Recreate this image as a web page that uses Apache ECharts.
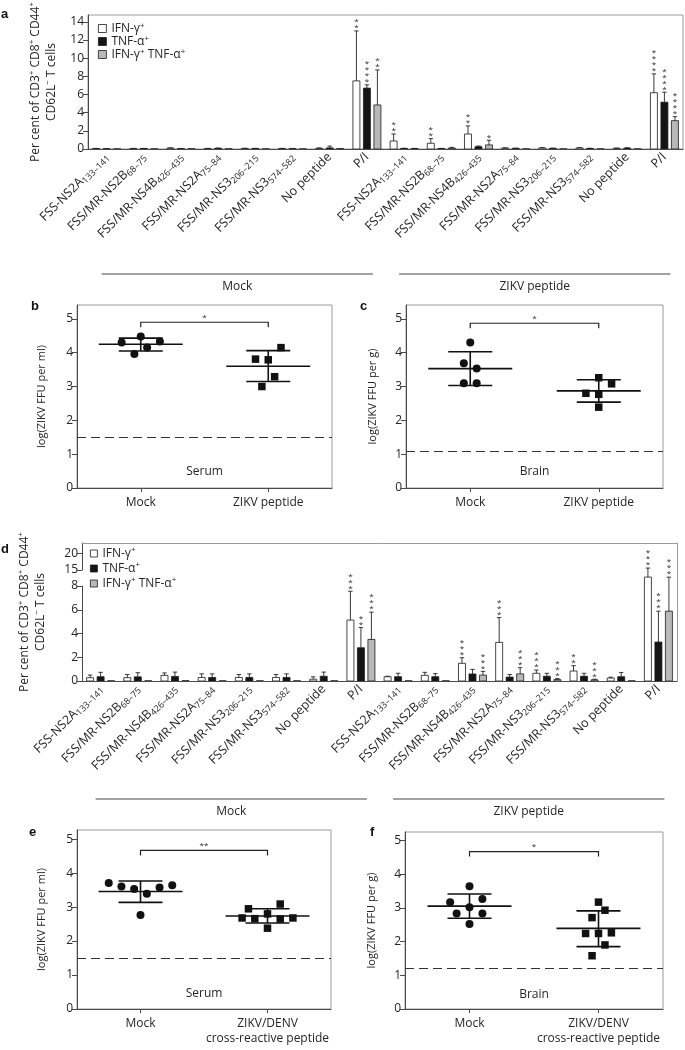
<!DOCTYPE html>
<html><head><meta charset="utf-8">
<script src="https://cdn.jsdelivr.net/npm/echarts@6/dist/echarts.min.js"></script>
<style>html,body{margin:0;padding:0;background:#fff}#c{width:685px;height:1050px}</style>
</head><body><div id="c"></div>
<script>
// ---------------- DATA ----------------
const peptideNames = ['FSS-NS2A','FSS/MR-NS2B','FSS/MR-NS4B','FSS/MR-NS2A','FSS/MR-NS3','FSS/MR-NS3','No peptide','P/I'];
const peptideSubs  = ['133–141','68–75','426–435','75–84','206–215','574–582','',''];
const groupNames   = ['Mock','ZIKV peptide'];
const cytokines    = ['IFN-γ+','TNF-α+','IFN-γ+ TNF-α+'];

// panel a (mean, SD, number of stars) - 16 categories: 8 Mock then 8 ZIKV peptide
const aIFN      = [0.05,0.05,0.10,0.05,0.06,0.05,0.08,7.50, 0.88,0.63,1.65,0.10,0.12,0.12,0.08,6.20];
const aIFNsd    = [0.02,0.02,0.03,0.02,0.02,0.02,0.04,5.50, 0.77,0.51,0.89,0.03,0.03,0.03,0.02,2.07];
const aIFNstars = [0,0,0,0,0,0,0,2, 2,2,2,0,0,0,0,4];
const aTNF      = [0.03,0.05,0.04,0.08,0.05,0.04,0.12,6.70, 0.06,0.05,0.25,0.07,0.07,0.06,0.10,5.15];
const aTNFsd    = [0.01,0.02,0.02,0.02,0.02,0.02,0.20,0.36, 0.02,0.02,0.08,0.02,0.02,0.02,0.03,1.10];
const aTNFstars = [0,0,0,0,0,0,0,4, 0,0,0,0,0,0,0,4];
const aDP       = [0.02,0.02,0.03,0.03,0.02,0.02,0.05,4.85, 0.05,0.10,0.45,0.02,0.02,0.02,0.02,3.12];
const aDPsd     = [0,0,0,0,0,0,0,3.85, 0.02,0.08,0.51,0,0,0,0,0.44];
const aDPstars  = [0,0,0,0,0,0,0,2, 0,0,1,0,0,0,0,4];

// panel d
const dIFN      = [0.28,0.28,0.47,0.30,0.30,0.30,0.15,5.13, 0.36,0.48,1.49,3.25,0.65,0.84,0.25,11.9];
const dIFNsd    = [0.22,0.27,0.21,0.30,0.25,0.25,0.20,2.43, 0.04,0.25,0.47,2.10,0.27,0.45,0.07,3.70];
const dIFNstars = [0,0,0,0,0,0,0,3, 0,0,3,3,3,2,0,3];
const dTNF      = [0.36,0.35,0.38,0.30,0.30,0.30,0.40,2.80, 0.36,0.36,0.59,0.33,0.40,0.40,0.36,3.28];
const dTNFsd    = [0.37,0.35,0.37,0.30,0.30,0.30,0.35,1.70, 0.29,0.26,0.39,0.22,0.25,0.25,0.36,2.60];
const dTNFstars = [0,0,0,0,0,0,0,2, 0,0,0,0,0,0,0,3];
const dDP       = [0.02,0.02,0.03,0.02,0.02,0.02,0.02,3.50, 0.02,0.02,0.50,0.60,0.12,0.10,0.02,5.88];
const dDPsd     = [0,0,0,0,0,0,0,2.30, 0,0,0.31,0.52,0.08,0.05,0,6.00];
const dDPstars  = [0,0,0,0,0,0,0,3, 0,0,3,3,3,3,0,3];

// panels b, c, e, f: jittered x position (1 = Mock, 2 = peptide) and log titre
const bMockX = [0.85,1.00,1.15,0.95,1.05], bMockY = [4.30,4.48,4.33,3.96,4.15];
const bPepX  = [1.90,2.00,2.10,2.05,1.95], bPepY  = [3.81,3.79,4.15,3.29,3.00];
const bMean = [4.25,3.60], bLo = [4.05,3.15], bHi = [4.43,4.06];
const cMockX = [1.00,0.95,1.05,0.95,1.05], cMockY = [4.30,3.69,3.53,3.10,3.10];
const cPepX  = [2.00,2.10,1.90,2.00,2.00], cPepY  = [3.26,3.08,2.80,2.77,2.39];
const cMean = [3.53,2.87], cLo = [3.03,2.54], cHi = [4.03,3.20];
const eMockX = [0.75,0.85,0.95,1.05,1.15,1.25,1.00], eMockY = [3.71,3.61,3.53,3.39,3.58,3.64,2.77];
const ePepX  = [1.80,1.85,1.90,2.00,2.10,2.00,2.10,2.20], ePepY = [2.68,2.95,2.66,2.80,3.09,2.38,2.65,2.68];
const eMean = [3.46,2.74], eLo = [3.14,2.53], eHi = [3.77,2.95];
const fMockX = [1.00,0.85,1.10,1.00,0.90,1.10,1.00], fMockY = [3.64,3.17,3.26,3.02,2.83,2.83,2.52];
const fPepX  = [2.00,2.05,1.95,1.90,2.00,2.10,2.05,1.95], fPepY = [3.17,2.93,2.71,2.24,2.24,2.26,1.90,1.58];
const fMean = [3.05,2.39], fLo = [2.69,1.85], fHi = [3.41,2.91];
const detectionLimit = [1.5, 1.1, 1.5, 1.2];
const bracketLevel = [4.90, 4.87, 4.67, 4.67];
const bracketStars = [1, 1, 2, 1];
const tissueNames = ['Serum','Brain','Serum','Brain'];
const tissueLabelY = [0.50, 0.50, 0.45, 0.42];
const titreTitles = ['log(ZIKV FFU per ml)','log(ZIKV FFU per g)','log(ZIKV FFU per ml)','log(ZIKV FFU per g)'];
const xNamesBC = ['Mock','ZIKV peptide'];
const xNamesEF = ['Mock','ZIKV/DENV\ncross-reactive peptide'];
const aTicks = [0,2,4,6,8,10,12,14];
const dLowTicks = [0,2,4,6,8];
const dHighTicks = [15,20];
const titreTicks = [0,1,2,3,4,5];

// ---------------- STYLE ----------------
const FONT = "'Open Sans', 'DejaVu Sans', sans-serif";
const TXT = '#262626', AX = '#4a4a4a', BOX = '#9a9a9a';
const FILLS = ['#ffffff', '#141414', '#b9b9b9'];
const BAR_W = 7, BAR_STEP = 10.5;

const catLabels = groupNames.flatMap(() => peptideNames.map((n, i) => peptideSubs[i] ? n + '{s|' + peptideSubs[i] + '}' : n));
const supFmt = s => s.replace(/\+/g, '{p|+}');

const chart = echarts.init(document.getElementById('c'));

const grids = [
  {left: 88, top: 15, width: 595, height: 134, show: true, borderColor: BOX},   //0 a
  {left: 77, top: 305, width: 255, height: 183, show: true, borderColor: BOX},  //1 b
  {left: 406, top: 305, width: 257, height: 183, show: true, borderColor: BOX}, //2 c
  {left: 82, top: 543, width: 595, height: 138},                                //3 d frame
  {left: 82, top: 586, width: 595, height: 95},                                 //4 d lower
  {left: 82, top: 570, width: 595, height: 16},                                 //5 d gap
  {left: 82, top: 543, width: 595, height: 27},                                 //6 d upper
  {left: 77, top: 830, width: 254, height: 179, show: true, borderColor: BOX},  //7 e
  {left: 405, top: 832, width: 258, height: 177, show: true, borderColor: BOX}  //8 f
].map(g => Object.assign({outerBoundsMode: 'none', containLabel: false, borderWidth: 1}, g));

const axLine = {show: true, onZero: false, lineStyle: {color: AX, width: 1}};
const catAxisLabel = {
  interval: 0, rotate: 45, margin: 6, fontSize: 12.5, color: TXT, fontFamily: FONT, lineHeight: 15,
  rich: {s: {fontSize: 9, lineHeight: 7, verticalAlign: 'bottom', fontFamily: FONT, color: TXT}}
};
function catAxis(gi, show) {
  return {type: 'category', gridIndex: gi, data: catLabels, show: show, axisLine: axLine,
    axisTick: {show: false}, axisLabel: catAxisLabel, splitLine: {show: false}};
}
function titreX(gi, names) {
  return {type: 'value', gridIndex: gi, min: 0.5, max: 2.5, axisLine: axLine, splitLine: {show: false},
    axisTick: {show: true, customValues: [1, 2], length: 4, lineStyle: {color: AX}},
    axisLabel: {customValues: [1, 2], formatter: v => names[Math.round(v) - 1], fontSize: 12, lineHeight: 15,
      color: TXT, fontFamily: FONT, margin: 7}};
}
function valY(gi, min, max, ticks, extra) {
  return Object.assign({type: 'value', gridIndex: gi, min: min, max: max, axisLine: axLine, splitLine: {show: false},
    axisTick: {show: true, customValues: ticks, length: 5, lineStyle: {color: AX}},
    axisLabel: {customValues: ticks, fontSize: 12, color: TXT, fontFamily: FONT, margin: 4}}, extra || {});
}
const nameStyleTitre = {fontSize: 11, color: TXT, fontFamily: FONT};
const pctName = 'Per cent of CD3{p|+} CD8{p|+} CD44{p|+}\nCD62L{p|−} T cells';
const pctNameStyle = {fontSize: 12, lineHeight: 16, color: TXT, fontFamily: FONT,
  rich: {p: {fontSize: 8, lineHeight: 8, verticalAlign: 'top', color: TXT, fontFamily: FONT}}};

const xAxes = [
  catAxis(0, true),
  titreX(1, xNamesBC),
  titreX(2, xNamesBC),
  {type: 'value', gridIndex: 3, min: 0, max: 1, position: 'top', axisLine: {show: true, onZero: false, lineStyle: {color: BOX}},
    axisTick: {show: false}, axisLabel: {show: false}, splitLine: {show: false}},
  catAxis(4, true),
  catAxis(5, false),
  catAxis(6, false),
  titreX(7, xNamesEF),
  titreX(8, xNamesEF)
];
const yAxes = [
  valY(0, 0, 14.75, aTicks, {name: pctName, nameLocation: 'middle', nameGap: 25, nameTextStyle: pctNameStyle}),
  valY(1, 0, 5.41, titreTicks, {name: titreTitles[0], nameLocation: 'middle', nameGap: 30, nameTextStyle: nameStyleTitre}),
  valY(2, 0, 5.41, titreTicks, {name: titreTitles[1], nameLocation: 'middle', nameGap: 28, nameTextStyle: nameStyleTitre}),
  {type: 'value', gridIndex: 3, min: 0, max: 1, position: 'right', axisLine: {show: true, onZero: false, lineStyle: {color: BOX}},
    axisTick: {show: false}, axisLabel: {show: false}, splitLine: {show: false}},
  valY(4, 0, 8, dLowTicks),
  {type: 'value', gridIndex: 5, min: 8, max: 15, show: false},
  valY(6, 15, 23.3, dHighTicks),
  valY(7, 0, 5.27, titreTicks, {name: titreTitles[2], nameLocation: 'middle', nameGap: 30, nameTextStyle: nameStyleTitre}),
  valY(8, 0, 5.25, titreTicks, {name: titreTitles[3], nameLocation: 'middle', nameGap: 28, nameTextStyle: nameStyleTitre}),
  {type: 'value', gridIndex: 3, min: 0, max: 1, position: 'left', axisLine: {show: false}, axisTick: {show: false},
    axisLabel: {show: false}, splitLine: {show: false}, name: pctName, nameLocation: 'middle', nameGap: 33, nameTextStyle: pctNameStyle}
];

// ---------- bar + error-bar series (custom, clipped to its grid) ----------
function barSeries(k, vals, sds, xi, yi) {
  return {
    type: 'custom', name: cytokines[k], xAxisIndex: xi, yAxisIndex: yi, clip: true, silent: true,
    itemStyle: {color: FILLS[k]},
    data: vals.map((v, i) => [i, v, sds[i]]),
    renderItem: (params, api) => {
      const i = api.value(0), v = api.value(1), e = api.value(2);
      const base = api.coord([i, 0]);
      const top = api.coord([i, v]);
      const cx = base[0] + (k - 1) * BAR_STEP;
      const ch = [{type: 'rect', shape: {x: cx - BAR_W / 2, y: top[1], width: BAR_W, height: Math.max(base[1] - top[1], 0.3)},
        style: {fill: FILLS[k], stroke: '#1a1a1a', lineWidth: 0.8}}];
      if (e > 0) {
        const et = api.coord([i, v + e])[1];
        ch.push({type: 'line', shape: {x1: cx, y1: top[1], x2: cx, y2: et}, style: {stroke: '#222', lineWidth: 0.9}});
        ch.push({type: 'line', shape: {x1: cx - 2.2, y1: et, x2: cx + 2.2, y2: et}, style: {stroke: '#222', lineWidth: 0.9}});
      }
      return {type: 'group', children: ch};
    }
  };
}
function starSeries(k, vals, sds, stars, xi, yi, lo, hi) {
  return {
    type: 'custom', xAxisIndex: xi, yAxisIndex: yi, clip: false, silent: true, z: 5,
    data: vals.map((v, i) => [i, v + sds[i], stars[i]]),
    renderItem: (params, api) => {
      const i = api.value(0), t = api.value(1), n = api.value(2);
      if (!n || t < lo || t >= hi) return {type: 'group', children: []};
      const p = api.coord([i, t]);
      const cx = p[0] + (k - 1) * BAR_STEP;
      const ch = [];
      for (let s = 0; s < n; s++) {
        ch.push({type: 'text', x: cx, y: p[1] - 3 - s * 6,
          style: {text: '*', fontSize: 8, fontFamily: FONT, fill: TXT, align: 'center', verticalAlign: 'middle'}});
      }
      return {type: 'group', children: ch};
    }
  };
}
function groupLineSeries(xi, yi, drop) {
  return {
    type: 'custom', xAxisIndex: xi, yAxisIndex: yi, clip: false, silent: true,
    data: [[0, 7], [8, 15]],
    renderItem: (params, api) => {
      const a = api.coord([api.value(0), 0]), b = api.coord([api.value(1), 0]);
      const x1 = a[0] - 5, x2 = b[0] + 6, y = a[1] + drop;
      return {type: 'group', children: [
        {type: 'line', shape: {x1: x1, y1: y, x2: x2, y2: y}, style: {stroke: '#444', lineWidth: 1.2}},
        {type: 'text', x: (x1 + x2) / 2, y: y + 13, style: {text: groupNames[params.dataIndex], fontSize: 12,
          fontFamily: FONT, fill: TXT, align: 'center', verticalAlign: 'middle'}}
      ]};
    }
  };
}

// ---------- scatter panels ----------
function titrePanel(gi, p, mockX, mockY, pepX, pepY, mean, lo, hi) {
  const pts = (xs, ys) => xs.map((x, i) => [x, ys[i]]);
  return [
    {type: 'scatter', xAxisIndex: gi, yAxisIndex: gi, symbol: 'circle', symbolSize: 8, silent: true,
      itemStyle: {color: '#111', opacity: 1}, data: pts(mockX, mockY), z: 4,
      markLine: {silent: true, symbol: 'none', animation: false, label: {show: false},
        lineStyle: {color: '#333', width: 1.2, type: [9, 5]}, data: [{yAxis: detectionLimit[p]}]}},
    {type: 'scatter', xAxisIndex: gi, yAxisIndex: gi, symbol: 'rect', symbolSize: 7.5, silent: true,
      itemStyle: {color: '#111', opacity: 1}, data: pts(pepX, pepY), z: 4},
    {type: 'custom', xAxisIndex: gi, yAxisIndex: gi, silent: true, z: 3,
      data: mean.map((m, i) => [i + 1, m, lo[i], hi[i]]),
      renderItem: (params, api) => {
        const x = api.value(0);
        const pm = api.coord([x, api.value(1)]), pl = api.coord([x, api.value(2)]), ph = api.coord([x, api.value(3)]);
        const st = {stroke: '#111', lineWidth: 1.6};
        return {type: 'group', children: [
          {type: 'line', shape: {x1: pm[0] - 42, y1: pm[1], x2: pm[0] + 42, y2: pm[1]}, style: st},
          {type: 'line', shape: {x1: pl[0] - 22, y1: pl[1], x2: pl[0] + 22, y2: pl[1]}, style: st},
          {type: 'line', shape: {x1: ph[0] - 22, y1: ph[1], x2: ph[0] + 22, y2: ph[1]}, style: st},
          {type: 'line', shape: {x1: pl[0], y1: pl[1], x2: ph[0], y2: ph[1]}, style: st}
        ]};
      }},
    {type: 'custom', xAxisIndex: gi, yAxisIndex: gi, silent: true, clip: false,
      data: [[1, 2, bracketLevel[p], bracketStars[p]]],
      renderItem: (params, api) => {
        const a = api.coord([api.value(0), api.value(2)]), b = api.coord([api.value(1), api.value(2)]);
        const t = api.coord([1.5, tissueLabelY[p]]);
        return {type: 'group', children: [
          {type: 'polyline', shape: {points: [[a[0], a[1] + 5], [a[0], a[1]], [b[0], b[1]], [b[0], b[1] + 5]]},
            style: {stroke: '#222', lineWidth: 1.2, fill: null}},
          {type: 'text', x: (a[0] + b[0]) / 2, y: a[1] - 5, style: {text: '*'.repeat(api.value(3)), fontSize: 8,
            fontFamily: FONT, fill: TXT, align: 'center', verticalAlign: 'middle'}},
          {type: 'text', x: t[0], y: t[1], style: {text: tissueNames[p], fontSize: 12, fontFamily: FONT, fill: TXT,
            align: 'center', verticalAlign: 'middle'}}
        ]};
      }}
  ];
}

const series = [];
const aSets = [[aIFN, aIFNsd, aIFNstars], [aTNF, aTNFsd, aTNFstars], [aDP, aDPsd, aDPstars]];
const dSets = [[dIFN, dIFNsd, dIFNstars], [dTNF, dTNFsd, dTNFstars], [dDP, dDPsd, dDPstars]];
aSets.forEach((s, k) => {
  series.push(barSeries(k, s[0], s[1], 0, 0));
  series.push(starSeries(k, s[0], s[1], s[2], 0, 0, -Infinity, Infinity));
});
const dRanges = [[4, -Infinity, 8], [5, 8, 15], [6, 15, Infinity]];
dSets.forEach((s, k) => {
  dRanges.forEach(r => {
    series.push(barSeries(k, s[0], s[1], r[0], r[0]));
    series.push(starSeries(k, s[0], s[1], s[2], r[0], r[0], r[1], r[2]));
  });
});
series.push(groupLineSeries(0, 0, 125));
series.push(groupLineSeries(4, 4, 118));
series.push(...titrePanel(1, 0, bMockX, bMockY, bPepX, bPepY, bMean, bLo, bHi));
series.push(...titrePanel(2, 1, cMockX, cMockY, cPepX, cPepY, cMean, cLo, cHi));
series.push(...titrePanel(7, 2, eMockX, eMockY, ePepX, ePepY, eMean, eLo, eHi));
series.push(...titrePanel(8, 3, fMockX, fMockY, fPepX, fPepY, fMean, fLo, fHi));

const legendItems = cytokines.map((n, k) => ({name: n, icon: 'rect',
  itemStyle: {color: FILLS[k], borderColor: '#1a1a1a', borderWidth: 0.8}}));
const legendText = (lh) => ({fontSize: 12, color: TXT, fontFamily: FONT, lineHeight: lh,
  rich: {p: {fontSize: 8, lineHeight: 8, verticalAlign: 'top', color: TXT, fontFamily: FONT}}});

const letter = (t, l, tp) => ({text: t, left: l, top: tp, padding: 0,
  textStyle: {fontSize: 13, fontWeight: 'bold', color: '#111', fontFamily: "'Liberation Sans', Arial, sans-serif"}});

chart.setOption({
  animation: false,
  backgroundColor: '#fff',
  textStyle: {fontFamily: FONT},
  title: [letter('a', 1, 8), letter('b', 31, 300), letter('c', 360, 300), letter('d', 1, 543), letter('e', 29, 826), letter('f', 370, 826)],
  legend: [
    {left: 98, top: 22, orient: 'vertical', itemWidth: 8, itemHeight: 8, itemGap: 0, selectedMode: false, padding: 0,
      data: legendItems, formatter: supFmt, textStyle: legendText(13)},
    {left: 90, top: 546, orient: 'vertical', itemWidth: 7, itemHeight: 7, itemGap: 0, selectedMode: false, padding: 0,
      data: legendItems, formatter: supFmt, textStyle: legendText(15)}
  ],
  grid: grids,
  xAxis: xAxes,
  yAxis: yAxes,
  series: series
});
</script></body></html>
